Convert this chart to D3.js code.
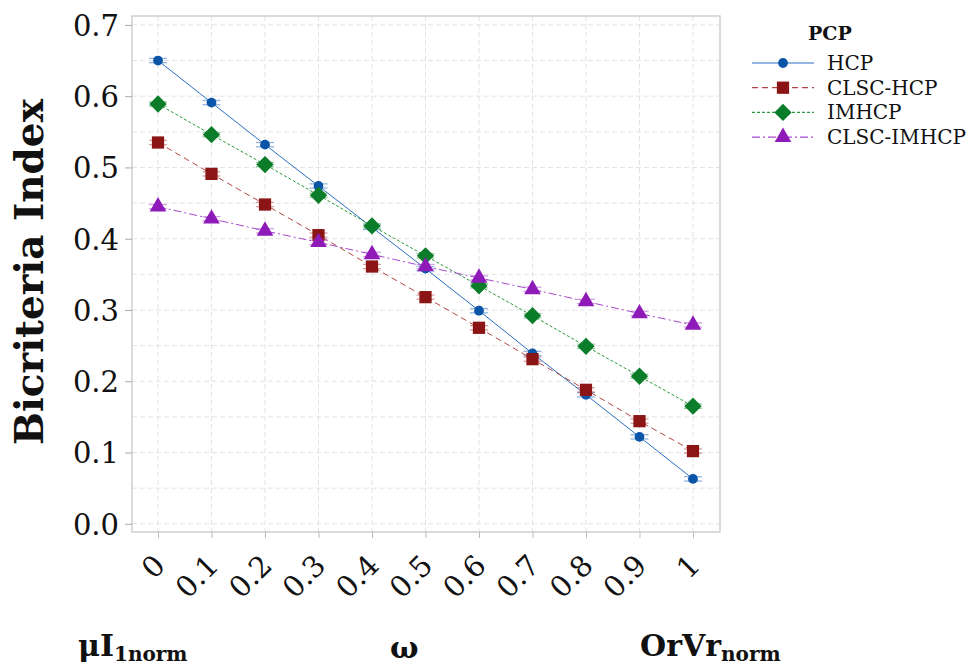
<!DOCTYPE html>
<html>
<head>
<meta charset="utf-8">
<script src="https://cdn.jsdelivr.net/npm/d3@7"></script>
<style>
  body { margin: 0; background: #fff; }
  text { font-family: "DejaVu Serif", serif; fill: #111; }
</style>
</head>
<body>
<div id="chart"></div>
<script>
// data
var omega = [0, 0.1, 0.2, 0.3, 0.4, 0.5, 0.6, 0.7, 0.8, 0.9, 1];
var xTickLabels = ["0", "0.1", "0.2", "0.3", "0.4", "0.5", "0.6", "0.7", "0.8", "0.9", "1"];
var yTicks = [0, 0.1, 0.2, 0.3, 0.4, 0.5, 0.6, 0.7];
var seriesNames = ["HCP", "CLSC-HCP", "IMHCP", "CLSC-IMHCP"];
var hcp = [0.650, 0.591, 0.532, 0.474, 0.416, 0.358, 0.299, 0.239, 0.181, 0.122, 0.063];
var clscHcp = [0.535, 0.491, 0.448, 0.405, 0.361, 0.318, 0.275, 0.231, 0.188, 0.144, 0.102];
var imhcp = [0.589, 0.546, 0.504, 0.461, 0.418, 0.376, 0.334, 0.292, 0.249, 0.207, 0.165];
var clscImhcp = [0.445, 0.428, 0.411, 0.395, 0.378, 0.361, 0.345, 0.329, 0.312, 0.295, 0.279];

var svgWidth = 976;
var svgHeight = 668;

var svg = d3.select("#chart")
  .append("svg")
  .attr("width", svgWidth)
  .attr("height", svgHeight);

// frame of the plot area
var frame = {left: 132, right: 720, top: 16, bottom: 532};

var x = d3.scaleLinear().domain([-0.0486, 1.0505]).range([frame.left, frame.right]);
var y = d3.scaleLinear().domain([-0.0115, 0.7125]).range([frame.bottom, frame.top]);

// styles per series (diamond = rotated square)
var styles = [
  {values: hcp, line: "#2a6fc0", mark: "#0a55a8", dash: null, shape: d3.symbolCircle, size: 75, rot: 0},
  {values: clscHcp, line: "#b54545", mark: "#8b1414", dash: "6,4", shape: d3.symbolSquare, size: 150, rot: 0},
  {values: imhcp, line: "#2a9a3a", mark: "#0b7d2a", dash: "3,2", shape: d3.symbolSquare, size: 150, rot: 45},
  {values: clscImhcp, line: "#a84ad0", mark: "#8e1ab8", dash: "8,3,2,3", shape: d3.symbolTriangle, size: 120, rot: 0}
];

// grid
var grid = svg.append("g");
var yGrid = d3.range(0, 0.701, 0.05);
grid.selectAll("line.hg")
  .data(yGrid)
  .enter()
  .append("line")
  .attr("x1", frame.left).attr("x2", frame.right)
  .attr("y1", d => y(d)).attr("y2", d => y(d))
  .attr("stroke", "#e3e3e3")
  .attr("stroke-dasharray", "5,3");
grid.selectAll("line.vg")
  .data(omega)
  .enter()
  .append("line")
  .attr("y1", frame.top).attr("y2", frame.bottom)
  .attr("x1", d => x(d)).attr("x2", d => x(d))
  .attr("stroke", "#e3e3e3")
  .attr("stroke-dasharray", "5,3");

// frame
svg.append("rect")
  .attr("x", frame.left).attr("y", frame.top)
  .attr("width", frame.right - frame.left).attr("height", frame.bottom - frame.top)
  .attr("fill", "none")
  .attr("stroke", "#cfcfcf")
  .attr("stroke-width", 1.5);

// y axis
var leftAxis = d3.axisLeft(y).tickValues(yTicks).tickFormat(d3.format(".1f")).tickSize(7).tickPadding(6);
var yAxis = svg.append("g")
  .attr("transform", `translate(${frame.left},0)`)
  .call(leftAxis);
yAxis.select(".domain").remove();
yAxis.selectAll("line").attr("stroke", "#aaa");
yAxis.selectAll("text")
  .attr("font-size", "29px")
  .attr("font-family", "DejaVu Serif")
  .attr("fill", "#111")
  .attr("dy", "0.36em");

// x axis
var bottomAxis = d3.axisBottom(x).tickValues(omega).tickFormat((d, i) => xTickLabels[i]).tickSize(6).tickPadding(8);
var xAxis = svg.append("g")
  .attr("transform", `translate(0,${frame.bottom})`)
  .call(bottomAxis);
xAxis.select(".domain").remove();
xAxis.selectAll("line").attr("stroke", "#bbb");
xAxis.selectAll("text")
  .attr("font-size", "29px")
  .attr("font-family", "DejaVu Serif")
  .attr("fill", "#111")
  .attr("text-anchor", "end")
  .attr("x", 0).attr("y", 0)
  .attr("dy", "0.5em")
  .attr("transform", "translate(-2,25) rotate(-45)");

// lines, error bars, markers
var line = d3.line()
  .x((d, i) => x(omega[i]))
  .y(d => y(d));

styles.forEach(function(s) {
  svg.append("path")
    .datum(s.values)
    .attr("d", line)
    .attr("fill", "none")
    .attr("stroke", s.line)
    .attr("stroke-width", 1)
    .attr("stroke-dasharray", s.dash);

  var eb = svg.append("g").attr("opacity", 0.5);
  [-0.003, 0.003].forEach(function(off) {
    eb.selectAll(null)
      .data(s.values)
      .enter()
      .append("line")
      .attr("x1", (d, i) => x(omega[i]) - 9)
      .attr("x2", (d, i) => x(omega[i]) + 9)
      .attr("y1", d => y(d + off))
      .attr("y2", d => y(d + off))
      .attr("stroke", s.line)
      .attr("stroke-width", 1.3);
  });

  svg.selectAll(null)
    .data(s.values)
    .enter()
    .append("path")
    .attr("d", d3.symbol().type(s.shape).size(s.size))
    .attr("transform", (d, i) => `translate(${x(omega[i])},${y(d)}) rotate(${s.rot})`)
    .attr("fill", s.mark);
});

// y label
svg.append("text")
  .attr("transform", `translate(43,272) rotate(-90)`)
  .attr("text-anchor", "middle")
  .attr("font-size", "39px")
  .attr("font-weight", "bold")
  .text("Bicriteria Index");

// legend
var legend = svg.append("g");
legend.append("text")
  .attr("x", 808).attr("y", 40)
  .attr("font-size", "19px")
  .attr("font-weight", "bold")
  .text("PCP");
styles.forEach(function(s, i) {
  var ly = 63 + i * 24.7;
  legend.append("line")
    .attr("x1", 752).attr("x2", 814)
    .attr("y1", ly).attr("y2", ly)
    .attr("stroke", s.line)
    .attr("stroke-width", 1.2)
    .attr("stroke-dasharray", s.dash);
  legend.append("path")
    .attr("d", d3.symbol().type(s.shape).size(s.size))
    .attr("transform", `translate(783,${ly}) rotate(${s.rot})`)
    .attr("fill", s.mark);
  legend.append("text")
    .attr("x", 827).attr("y", ly)
    .attr("dy", "0.35em")
    .attr("font-size", "20px")
    .text(seriesNames[i]);
});

// bottom annotations
var mu = svg.append("text")
  .attr("x", 78).attr("y", 656)
  .attr("font-size", "30px")
  .attr("font-weight", "bold");
mu.append("tspan").text("μI");
mu.append("tspan").attr("font-size", "20px").attr("dy", "5").text("1norm");

svg.append("text")
  .attr("x", 390).attr("y", 658)
  .attr("font-size", "30px")
  .attr("font-weight", "bold")
  .text("ω");

var orv = svg.append("text")
  .attr("x", 640).attr("y", 656)
  .attr("font-size", "30px")
  .attr("font-weight", "bold");
orv.append("tspan").text("OrVr");
orv.append("tspan").attr("font-size", "20px").attr("dy", "5").text("norm");
</script>
</body>
</html>
